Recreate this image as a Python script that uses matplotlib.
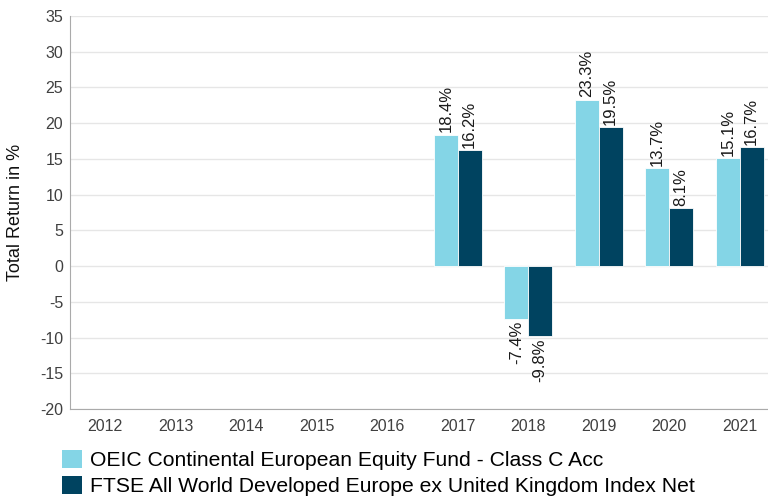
import numpy as np
import matplotlib.pyplot as plt
from matplotlib.patches import Patch

plt.rcParams['font.family'] = ['Liberation Sans', 'DejaVu Sans']
plt.rcParams['axes.unicode_minus'] = False

years = ['2012', '2013', '2014', '2015', '2016', '2017', '2018', '2019', '2020', '2021']
fund = [np.nan, np.nan, np.nan, np.nan, np.nan, 18.4, -7.4, 23.3, 13.7, 15.1]
index = [np.nan, np.nan, np.nan, np.nan, np.nan, 16.2, -9.8, 19.5, 8.1, 16.7]
series_names = ['OEIC Continental European Equity Fund - Class C Acc',
                'FTSE All World Developed Europe ex United Kingdom Index Net']
colors = ['#84d5e6', '#004360']

fig = plt.figure(figsize=(7.68, 4.97), dpi=100)
ax = fig.add_axes([70/768, 88/497, 705/768, 393/497])

x = np.arange(len(years))
w = 0.34
for vals, off, c in [(fund, -w/2, colors[0]), (index, w/2, colors[1])]:
    ax.bar(x + off, vals, width=w, color=c, edgecolor='white', linewidth=0.6, zorder=3)
    for xi, v in zip(x, vals):
        if np.isnan(v):
            continue
        va = 'bottom' if v >= 0 else 'top'
        dy = 0.3 if v >= 0 else -0.3
        ax.text(xi + off, v + dy, f'{v:.1f}%', rotation=90, ha='center', va=va,
                fontsize=12, color='#1a1a1a')

ax.set_xlim(-0.5, len(years) - 0.5)
ax.set_ylim(-20, 35)
ax.set_yticks(range(-20, 36, 5))
ax.set_xticks(x)
ax.set_xticklabels(years)
ax.tick_params(axis='both', length=0, labelsize=11.5, colors='#404040')
ax.tick_params(axis='x', pad=7)
ax.tick_params(axis='y', pad=5)
ax.grid(axis='y', color='#e6e6e6', linewidth=1, zorder=0)
for s in ['top', 'right']:
    ax.spines[s].set_visible(False)
for s in ['left', 'bottom']:
    ax.spines[s].set_color('#aaaaaa')
    ax.spines[s].set_linewidth(0.8)
fig.text(16/768, 1 - 212/497, 'Total Return in %', rotation=90, ha='center', va='center',
         fontsize=13, color='#111111')

handles = [Patch(facecolor=c) for c in colors]
fig.legend(handles, series_names, loc='lower left', bbox_to_anchor=(62/768, 1/497),
           frameon=False, fontsize=15.2, handlelength=0.95, handleheight=0.95,
           handletextpad=0.4, labelspacing=0.25, borderaxespad=0, borderpad=0)

fig.savefig('out.png', dpi=100)
